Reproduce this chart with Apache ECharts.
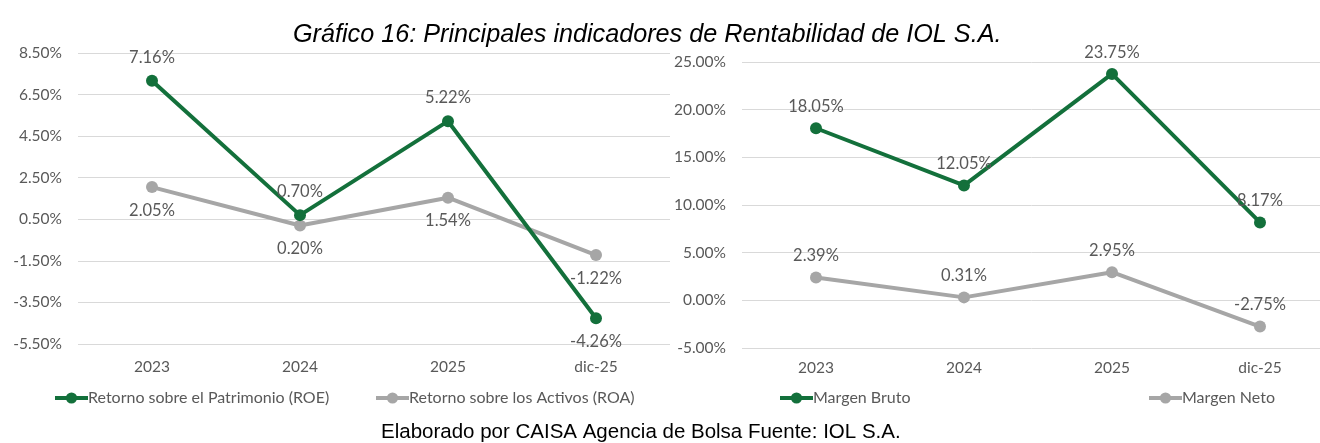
<!DOCTYPE html>
<html><head><meta charset="utf-8">
<script src="https://cdn.jsdelivr.net/npm/echarts@6/dist/echarts.min.js"></script>
<style>html,body{margin:0;padding:0;background:#fff}#c{width:1320px;height:443px}</style>
</head><body><div id="c"></div>
<script>
// ---- data ----
const categories = ['2023', '2024', '2025', 'dic-25'];
const roe = [7.16, 0.70, 5.22, -4.26];
const roa = [2.05, 0.20, 1.54, -1.22];
const margenBruto = [18.05, 12.05, 23.75, 8.17];
const margenNeto = [2.39, 0.31, 2.95, -2.75];
const seriesNames = ['Retorno sobre el Patrimonio (ROE)', 'Retorno sobre los Activos (ROA)', 'Margen Bruto', 'Margen Neto'];
const titleText = 'Gráfico 16: Principales indicadores de Rentabilidad de IOL S.A.';
const footerText = 'Elaborado por CAISA Agencia de Bolsa Fuente: IOL S.A.';

// ---- styles ----
const GREEN = '#13703B';
const GREY = '#A6A6A6';
const TXT = '#595959';
const FONT = 'Lato';
const roePos = ['top', 'top', 'top', 'bottom'];
const roaPos = ['bottom', 'bottom', 'bottom', 'bottom'];

function pct(v) { return v.toFixed(2) + '%'; }

function mkSeries(name, data, color, xi, positions) {
  return {
    name: name, type: 'line', xAxisIndex: xi, yAxisIndex: xi,
    data: data.map((v, i) => ({ value: v, label: { position: positions ? positions[i] : 'top' } })),
    symbol: 'circle', symbolSize: 12,
    lineStyle: { color: color, width: 4 },
    itemStyle: { color: color },
    label: { show: true, distance: xi === 0 ? 9 : 7, color: TXT, fontFamily: FONT, fontSize: 16.5,
      formatter: p => pct(p.value) },
    z: color === GREEN ? 3 : 2,
    animation: false
  };
}

function yAxis(gi, min, max, interval) {
  return {
    type: 'value', gridIndex: gi, min: min, max: max, interval: interval,
    axisLine: { show: false }, axisTick: { show: false },
    splitLine: { lineStyle: { color: '#D9D9D9', width: 1 } },
    axisLabel: { color: TXT, fontFamily: FONT, fontSize: 15.5, margin: 16,
      formatter: v => pct(v) }
  };
}
function xAxis(gi) {
  return {
    type: 'category', gridIndex: gi, data: categories, boundaryGap: true,
    axisLine: { show: false }, axisTick: { show: false },
    axisLabel: { color: TXT, fontFamily: FONT, fontSize: 15.5, margin: gi === 0 ? 15 : 12 }
  };
}
function legend(name, left) {
  return {
    data: [name], left: left, top: 385, itemWidth: 33, itemHeight: 14, itemGap: 0,
    lineStyle: { width: 4 },
    textStyle: { color: TXT, fontFamily: FONT, fontSize: 16, padding: [0, 0, 0, -5] }
  };
}

const chart = echarts.init(document.getElementById('c'), null, { renderer: 'canvas' });
chart.setOption({
  backgroundColor: '#fff',
  animation: false,
  title: [
    { text: titleText, left: 288, top: 17,
      textStyle: { fontFamily: 'Liberation Sans', fontStyle: 'italic', fontWeight: 'normal', fontSize: 25.2, color: '#000' } },
    { text: footerText, left: 376, top: 417,
      textStyle: { fontFamily: 'Liberation Sans', fontWeight: 'normal', fontSize: 20.5, color: '#000' } }
  ],
  grid: [
    { left: 78, top: 53, width: 592, height: 291, outerBoundsMode: 'none' },
    { left: 742, top: 62, width: 592, height: 286, outerBoundsMode: 'none' }
  ],
  xAxis: [xAxis(0), xAxis(1)],
  yAxis: [yAxis(0, -5.5, 8.5, 2), yAxis(1, -5, 25, 5)],
  legend: [legend(seriesNames[0], 48), legend(seriesNames[1], 369), legend(seriesNames[2], 773), legend(seriesNames[3], 1142)],
  series: [
    mkSeries(seriesNames[0], roe, GREEN, 0, roePos),
    mkSeries(seriesNames[1], roa, GREY, 0, roaPos),
    mkSeries(seriesNames[2], margenBruto, GREEN, 1, null),
    mkSeries(seriesNames[3], margenNeto, GREY, 1, null)
  ]
});
</script></body></html>
